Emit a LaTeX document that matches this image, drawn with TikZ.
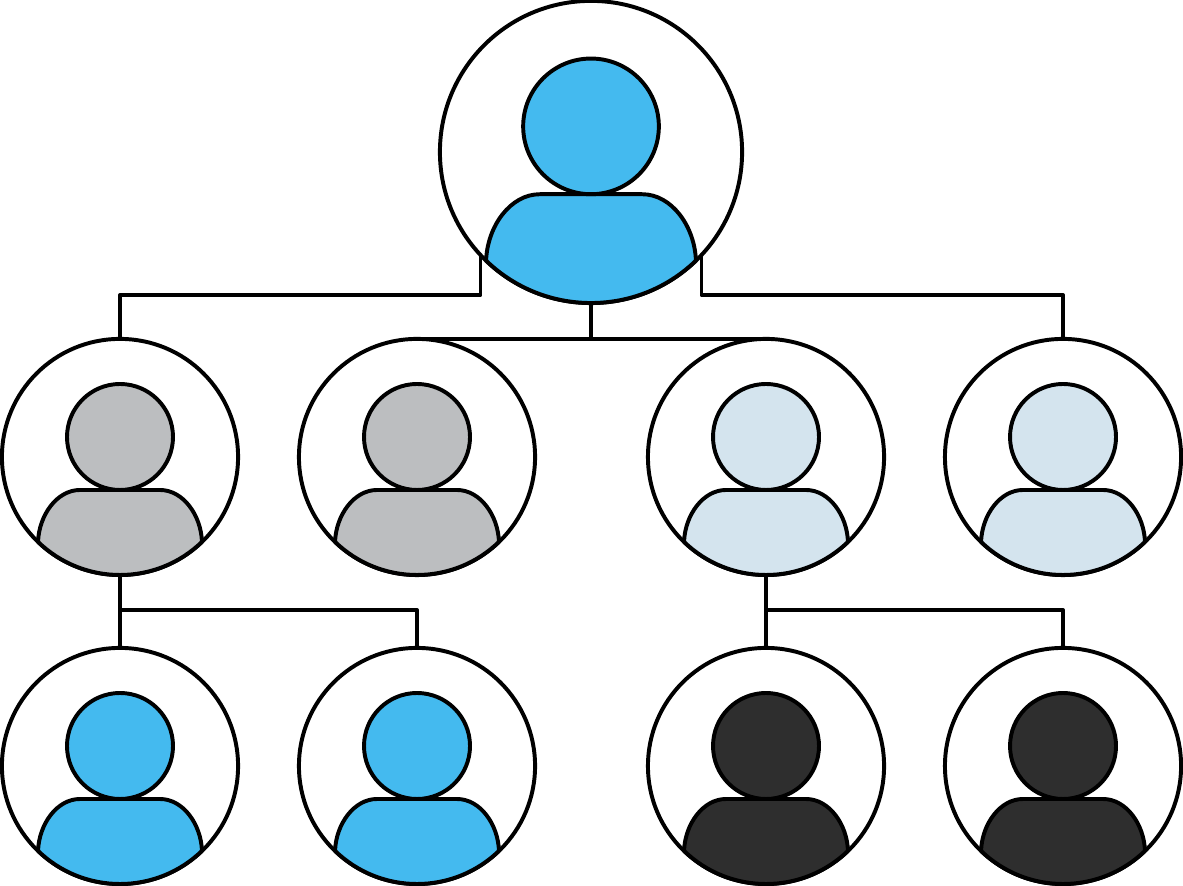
\documentclass[tikz,border=0pt]{standalone}
\usepackage{tikz}

\definecolor{skyblue}{RGB}{68,186,239}
\definecolor{midgray}{RGB}{188,190,192}
\definecolor{paleblue}{RGB}{212,228,238}
\definecolor{charcoal}{RGB}{46,46,46}

\tikzset{
  outline/.style={line width=1.12pt, line join=round},
  ring/.style={draw, circle, outline, fill=white, inner sep=0pt, outer sep=0pt},
  leadring/.style={ring, minimum size=3.02cm},
  staffring/.style={ring, minimum size=2.36cm},
  link/.style={outline}
}

% head and shoulders inside a ring: #1 ring name, #2 fill, #3 size
\newcommand{\personicon}[3]{
  \begin{scope}[shift={(#1.center)}, scale=#3]
    \draw[outline, fill=#2] (226:118) .. controls (-81,-58) and (-63,-33) .. (-40,-33)
      -- (40,-33) .. controls (63,-33) and (81,-58) .. (314:118)
      arc[start angle=314, end angle=226, radius=118] -- cycle;
    \draw[outline, fill=#2] (0,20) circle[radius=53];
  \end{scope}
}

\begin{document}
\begin{tikzpicture}[x=0.01cm, y=0.01cm]
\useasboundingbox (0,0) rectangle (1183,886);

% Top of the tree
\node[leadring] (lead) at (591,734) {};

% Middle row
\node[staffring] (grayleft) at (120,429) {};
\node[staffring] (grayright) at (417,429) {};
\node[staffring] (paleleft) at (766,429) {};
\node[staffring] (paleright) at (1063,429) {};

% Bottom row
\node[staffring] (blueleft) at (120,120) {};
\node[staffring] (blueright) at (417,120) {};
\node[staffring] (darkleft) at (766,120) {};
\node[staffring] (darkright) at (1063,120) {};

% Connectors
\coordinate (leftbus) at (120,591);
\coordinate (rightbus) at (1063,591);
\coordinate (graytee) at (120,276);
\coordinate (paletee) at (766,276);

\draw[link] (lead.223) |- (leftbus) -- (grayleft.north);
\draw[link] (lead.317) |- (rightbus) -- (paleright.north);
\draw[link] (lead.south) -- (lead.south |- grayright.north);
\draw[link] (grayright.north) -- (paleleft.north);

\draw[link] (grayleft.south) -- (blueleft.north);
\draw[link] (graytee) -| (blueright.north);
\draw[link] (paleleft.south) -- (darkleft.north);
\draw[link] (paletee) -| (darkright.north);

% People
\personicon{lead}{skyblue}{1.28}
\personicon{grayleft}{midgray}{1}
\personicon{grayright}{midgray}{1}
\personicon{paleleft}{paleblue}{1}
\personicon{paleright}{paleblue}{1}
\personicon{blueleft}{skyblue}{1}
\personicon{blueright}{skyblue}{1}
\personicon{darkleft}{charcoal}{1}
\personicon{darkright}{charcoal}{1}
\end{tikzpicture}
\end{document}
